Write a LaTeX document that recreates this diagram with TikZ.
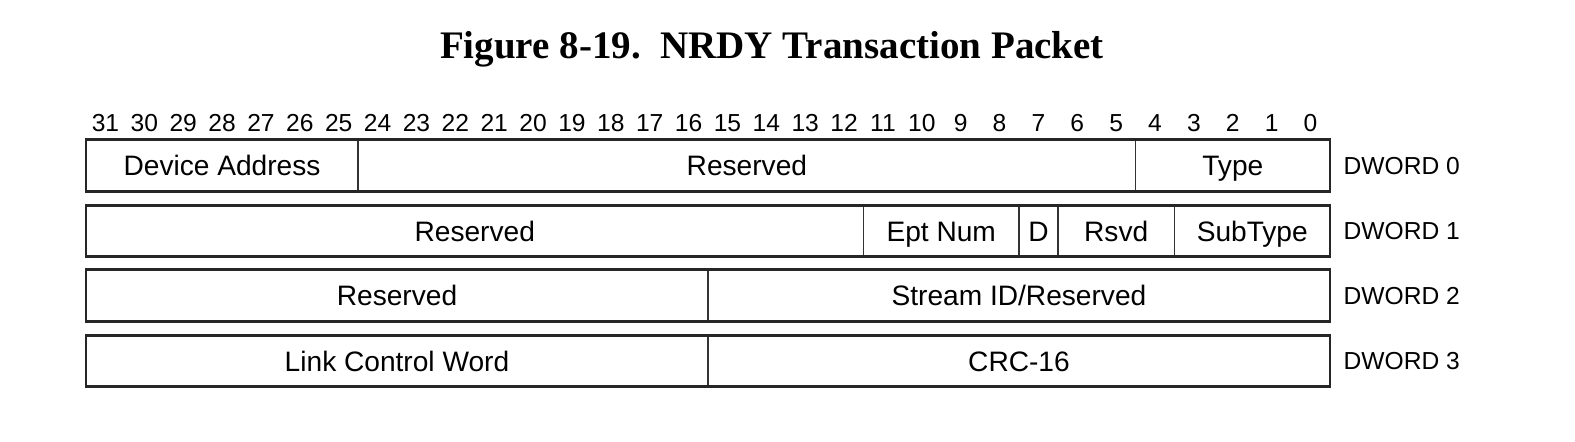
\documentclass[tikz,border=0pt]{standalone}
\usepackage{fontspec}
\setmainfont{Liberation Sans}
\newfontfamily\titlefont{Liberation Serif}
\usetikzlibrary{positioning}

\tikzset{
  field/.style={draw=black!80, line width=0.4pt, inner sep=0pt, outer sep=0pt,
    minimum height=0.515cm, text height=6pt, text depth=0.3pt,
    font=\fontsize{8}{9.6}\selectfont},
  frame/.style={draw=black!85, line width=0.8pt},
  bitnum/.style={inner sep=0pt, text height=5.2pt, text depth=0pt, font=\fontsize{7}{8}\selectfont},
  dword/.style={inner sep=0pt, text height=5.2pt, text depth=0.2pt, font=\fontsize{7}{8}\selectfont}
}
\newcommand{\bw}{0.38875cm}

\begin{document}
\begin{tikzpicture}
    \useasboundingbox (0,0) rectangle (15.75,-4.41);
    \node[font=\titlefont\bfseries\fontsize{11.1}{13}\selectfont] (title) at (7.72,-0.49) {Figure 8-19.\ \ NRDY Transaction Packet};
    % bit numbers
    \foreach \b in {0,...,31}
      \node[bitnum] (bit\b) at ({0.86+(31-\b+0.5)*0.38875},-1.22) {\b};
    % DWORD 0
    \node[field, minimum width=7*\bw, anchor=west] (devaddr) at (0.86,-1.655) {Device Address};
    \node[field, minimum width=20*\bw, right=0pt of devaddr] (rsvdA) {Reserved};
    \node[field, minimum width=5*\bw, right=0pt of rsvdA] (type) {Type};
    \draw[frame] (devaddr.north west) rectangle (type.south east);
    \node[dword, right=0.13cm of type] (dw0) {DWORD 0};
    % DWORD 1
    \node[field, minimum width=20*\bw, anchor=west] (rsvdB) at (0.86,-2.31) {Reserved};
    \node[field, minimum width=4*\bw, right=0pt of rsvdB] (eptnum) {Ept Num};
    \node[field, minimum width=1*\bw, right=0pt of eptnum] (dir) {D};
    \node[field, minimum width=3*\bw, right=0pt of dir] (rsvd) {Rsvd};
    \node[field, minimum width=4*\bw, right=0pt of rsvd] (subtype) {SubType};
    \draw[frame] (rsvdB.north west) rectangle (subtype.south east);
    \node[dword, right=0.13cm of subtype] (dw1) {DWORD 1};
    % DWORD 2
    \node[field, minimum width=16*\bw, anchor=west] (rsvdC) at (0.86,-2.955) {Reserved};
    \node[field, minimum width=16*\bw, right=0pt of rsvdC] (stream) {Stream ID/Reserved};
    \draw[frame] (rsvdC.north west) rectangle (stream.south east);
    \node[dword, right=0.13cm of stream] (dw2) {DWORD 2};
    % DWORD 3
    \node[field, minimum width=16*\bw, anchor=west] (lcw) at (0.86,-3.61) {Link Control Word};
    \node[field, minimum width=16*\bw, right=0pt of lcw] (crc) {CRC-16};
    \draw[frame] (lcw.north west) rectangle (crc.south east);
    \node[dword, right=0.13cm of crc] (dw3) {DWORD 3};
\end{tikzpicture}
\end{document}
